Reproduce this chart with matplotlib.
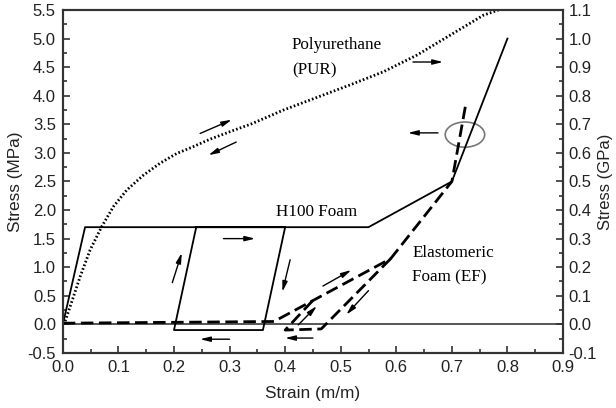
import numpy as np
import matplotlib
matplotlib.use('Agg')
import matplotlib.pyplot as plt
from matplotlib.patches import Ellipse

# H100 foam (solid), strain vs stress in MPa
h100_strain = [0.0, 0.04, 0.40, 0.36, 0.20, 0.24, 0.55, 0.70, 0.80]
h100_stress = [0.0, 1.70, 1.70, -0.10, -0.10, 1.70, 1.70, 2.50, 5.00]

# Elastomeric foam (dashed): loading branch and unload/reload loop
ef_load_strain = [0.0, 0.38, 0.59, 0.70, 0.725]
ef_load_stress = [0.02, 0.05, 1.15, 2.50, 3.85]
ef_loop_strain = [0.59, 0.465, 0.40, 0.45]
ef_loop_stress = [1.15, -0.08, -0.10, 0.42]

# Polyurethane (dotted)
pur_strain = [0.0, 0.004, 0.019, 0.031, 0.049, 0.070, 0.091, 0.115, 0.145,
              0.175, 0.205, 0.235, 0.265, 0.306, 0.340, 0.397, 0.457, 0.517,
              0.577, 0.637, 0.697, 0.757, 0.784]
pur_stress = [0.0, 0.05, 0.48, 0.83, 1.30, 1.71, 2.06, 2.35, 2.61,
              2.82, 2.99, 3.11, 3.24, 3.39, 3.51, 3.75, 3.97, 4.19,
              4.42, 4.71, 5.06, 5.41, 5.50]

xticks = np.arange(0, 0.91, 0.1)
yticks_mpa = np.arange(-0.5, 5.51, 0.5)
yticks_gpa = np.arange(-0.1, 1.11, 0.1)

# arrows: (x_start, y_start, x_end, y_end) in strain / MPa
arrows = [
    (0.247, 3.34, 0.304, 3.58),
    (0.312, 3.19, 0.262, 2.96),
    (0.630, 4.59, 0.684, 4.59),
    (0.675, 3.35, 0.621, 3.35),
    (0.197, 0.73, 0.214, 1.25),
    (0.289, 1.50, 0.346, 1.50),
    (0.409, 1.13, 0.395, 0.57),
    (0.300, -0.26, 0.247, -0.26),
    (0.468, 0.67, 0.519, 0.95),
    (0.4235, -0.01, 0.457, 0.32),
    (0.550, 0.59, 0.510, 0.17),
    (0.450, -0.24, 0.400, -0.24),
]

plt.rcParams['font.family'] = ['Liberation Sans', 'DejaVu Sans']
edge = '#333333'

fig = plt.figure(figsize=(6.16, 4.08), dpi=100)
ax = fig.add_axes([0.102, 0.135, 0.812, 0.8405])

ax.axhline(0, color='#555555', lw=1.4, zorder=1)
ax.plot(h100_strain, h100_stress, color='black', lw=1.3)
ax.plot(ef_load_strain, ef_load_stress, color='black', lw=2.0, ls=(0, (4.5, 2)))
ax.plot(ef_loop_strain, ef_loop_stress, color='black', lw=2.0, ls=(0, (4.5, 2)))
ax.plot(pur_strain, pur_stress, color='black', lw=2.0, ls=(0, (0.6, 0.8)))

for x0, y0, x1, y1 in arrows:
    ax.annotate('', xy=(x1, y1), xytext=(x0, y0),
                arrowprops=dict(arrowstyle='-|>,head_length=0.6,head_width=0.15',
                                color='black', lw=1.0, shrinkA=0, shrinkB=0))

ax.add_patch(Ellipse((0.7235, 3.32), 0.071, 0.44, fill=False, ec='#777777', lw=1.2))

serif = ['Liberation Serif', 'DejaVu Serif']
fs = 12.3
ax.text(0.412, 4.88, 'Polyurethane', family=serif, fontsize=fs, va='center')
ax.text(0.412, 4.45, '(PUR)', family=serif, fontsize=fs, va='center')
ax.text(0.384, 1.97, 'H100 Foam', family=serif, fontsize=fs, va='center')
ax.text(0.629, 1.24, 'Elastomeric', family=serif, fontsize=fs, va='center')
ax.text(0.629, 0.82, 'Foam (EF)', family=serif, fontsize=fs, va='center')

ax.set_xlim(0, 0.9)
ax.set_ylim(-0.5, 5.5)
ax.set_xticks(xticks)
ax.set_xticklabels([f'{v:.1f}' for v in xticks])
ax.set_yticks(yticks_mpa)
ax.set_yticklabels([f'{v:.1f}' for v in yticks_mpa])
ax.set_xticks(np.arange(0.05, 0.9, 0.1), minor=True)
ax.set_yticks(np.arange(-0.25, 5.5, 0.5), minor=True)
ax.tick_params(which='both', direction='in', colors=edge, labelcolor='#222222',
               labelsize=12, width=1.2)
ax.tick_params(which='major', length=5, pad=5)
ax.tick_params(which='minor', length=3)
ax.set_xlabel('Strain (m/m)', fontsize=12.4, color='#222222', labelpad=8)
ax.set_ylabel('Stress (MPa)', fontsize=12.4, color='#222222', labelpad=3)

ax2 = ax.twinx()
ax2.set_ylim(-0.1, 1.1)
ax2.set_yticks(yticks_gpa)
ax2.set_yticklabels([f'{v:.1f}' for v in yticks_gpa])
ax2.set_yticks(np.arange(-0.05, 1.1, 0.1), minor=True)
ax2.tick_params(which='both', direction='in', colors=edge, labelcolor='#222222',
                labelsize=12, width=1.2)
ax2.tick_params(which='major', length=5, pad=4)
ax2.tick_params(which='minor', length=3)
ax2.set_ylabel('Stress (GPa)', fontsize=12, color='#222222', labelpad=1)

for a in (ax, ax2):
    for s in a.spines.values():
        s.set_color(edge)
        s.set_linewidth(1.5)

fig.savefig('out.png', dpi=100)
